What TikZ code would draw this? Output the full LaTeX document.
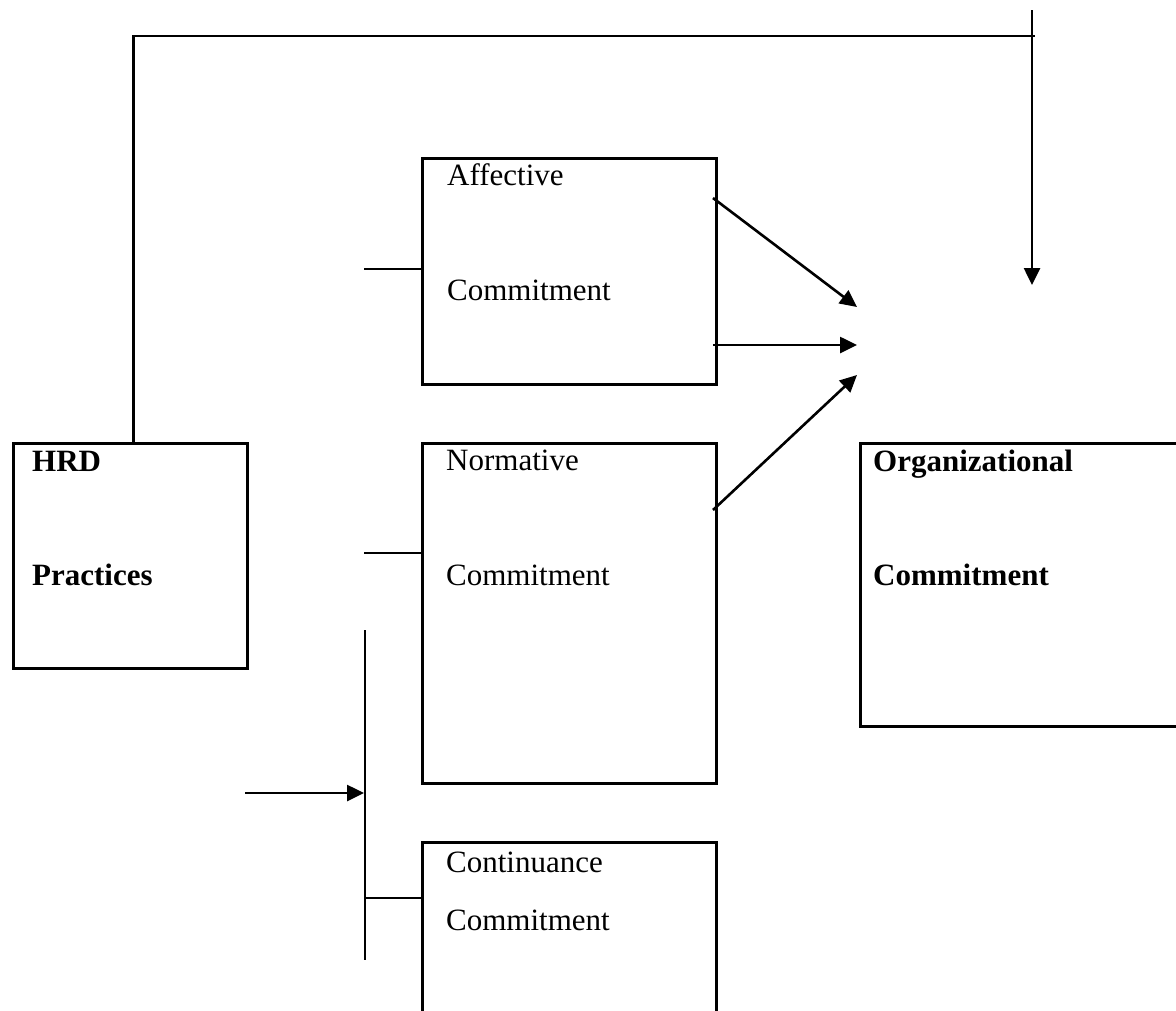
\documentclass[tikz,border=0pt]{standalone}
\usepackage{fontspec}
\setmainfont{Liberation Serif}
\usetikzlibrary{arrows.meta}

\tikzset{
  box/.style={draw, line width=2.5pt, anchor=north west, inner sep=0pt},
  txt/.style={anchor=base west, inner sep=0pt, font=\fontsize{31}{37}\selectfont},
  btxt/.style={txt, font=\fontsize{31}{37}\selectfont\bfseries},
  link/.style={line width=2.5pt},
  arr/.style={line width=2.6pt, -{Triangle[length=17pt,width=16pt]}}
}

\begin{document}
\begin{tikzpicture}[x=1pt, y=-1pt]
                  \useasboundingbox (0,0) rectangle (1176,1010);
                  % boxes
                  \node[box, minimum width=234pt, minimum height=225pt] (hrd) at (12,442) {};
                  \node[box, minimum width=294pt, minimum height=226pt] (aff) at (421,157) {};
                  \node[box, minimum width=294pt, minimum height=340pt] (nor) at (421,442) {};
                  \node[box, minimum width=294pt, minimum height=200pt] (con) at (421,841) {};
                  \node[box, minimum width=330pt, minimum height=283pt] (org) at (859,442) {};
                  % texts
                  \node[btxt] (hrdA) at (32,471) {HRD};
                  \node[btxt] (hrdB) at (32,585) {Practices};
                  \node[txt] (affA) at (447,185) {Affective};
                  \node[txt] (affB) at (447,300) {Commitment};
                  \node[txt] (norA) at (446,470) {Normative};
                  \node[txt] (norB) at (446,585) {Commitment};
                  \node[txt] (conA) at (446,872) {Continuance};
                  \node[txt] (conB) at (446,930) {Commitment};
                  \node[btxt] (orgA) at (873,471) {Organizational};
                  \node[btxt] (orgB) at (873,585) {Commitment};
                  % free ends
                  \coordinate (topend) at (1035,36);
                  \coordinate (topin) at (1032,10);
                  \coordinate (orgin) at (1032,285);
                  \coordinate (affstub) at (364,269);
                  \coordinate (norstub) at (364,553);
                  \coordinate (barTop) at (365,630);
                  \coordinate (barBot) at (365,960);
                  \coordinate (barIn) at (245,793);
                  \coordinate (barHit) at (364,793);
                  \coordinate (constub) at (365,898);
                  \coordinate (affO) at (713,198);
                  \coordinate (affM) at (713,345);
                  \coordinate (norO) at (713,510);
                  \coordinate (tipA) at (857,307);
                  \coordinate (tipB) at (857,345);
                  \coordinate (tipC) at (857,375);
                  % connectors
                  \draw[link] ([xshift=3pt]hrd.north) |- (topend);
                  \draw[arr] (topin) -- (orgin);
                  \draw[link] (affstub) -- (affstub -| aff.west);
                  \draw[link] (norstub) -- (norstub -| nor.west);
                  \draw[line width=1.8pt] (barTop) -- (barBot);
                  \draw[link] (constub) -- (constub -| con.west);
                  \draw[arr] (barIn) -- (barHit);
                  \draw[arr] (affO) -- (tipA);
                  \draw[arr] (affM) -- (tipB);
                  \draw[arr] (norO) -- (tipC);
                \end{tikzpicture}
\end{document}
